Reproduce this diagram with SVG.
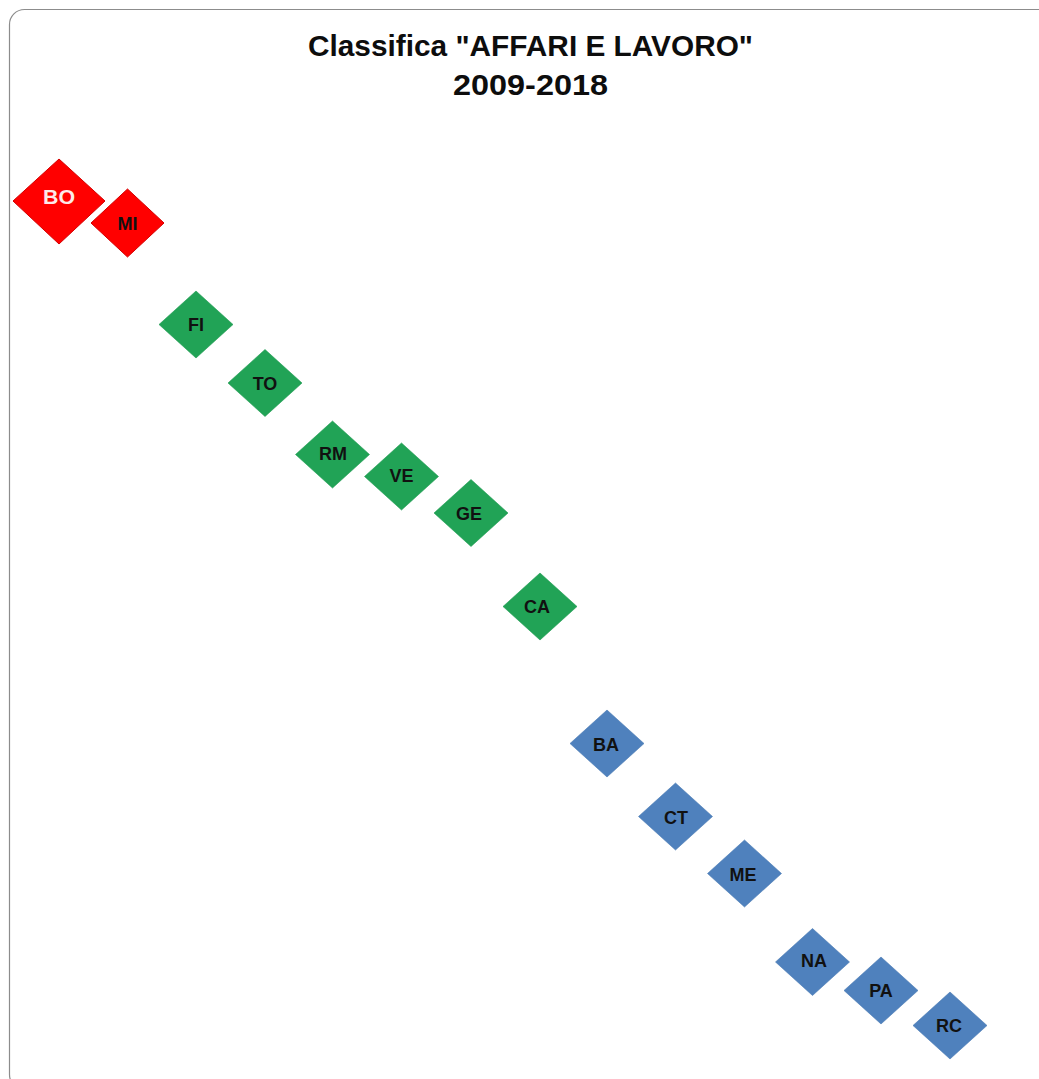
<svg xmlns="http://www.w3.org/2000/svg" width="1039" height="1079" viewBox="0 0 1039 1079">
<style>
.frame{fill:#fff;stroke:#8c8c8c;stroke-width:1.2}
.title{font-family:"Liberation Sans",Arial,sans-serif;font-weight:bold;font-size:29px;fill:#0d0d0d;text-anchor:middle}
.red{fill:#ff0000;stroke:#d40000;stroke-width:1}
.green{fill:#21a356;stroke:#1e9a50;stroke-width:0.6}
.blue{fill:#4f81bd;stroke:#4a7ab3;stroke-width:0.6}
.lbl{font-family:"Liberation Sans",Arial,sans-serif;font-weight:bold;font-size:18px;fill:#111;text-anchor:middle}
.lblw{font-family:"Liberation Sans",Arial,sans-serif;font-weight:bold;font-size:20px;fill:#fdeaea;text-anchor:middle}
</style>
<defs>
<polygon id="d" points="0,-33.5 37,0 0,33.5 -37,0"/>
</defs>
<rect width="1039" height="1079" fill="#fff"/>
<rect class="frame" x="9.5" y="9.5" width="1045" height="1080" rx="15"/>
<g id="title">
<text class="title" x="530.5" y="56" textLength="445" lengthAdjust="spacingAndGlyphs">Classifica "AFFARI E LAVORO"</text>
<text class="title" x="530.5" y="95" textLength="155" lengthAdjust="spacingAndGlyphs">2009-2018</text>
</g>
<g id="connectors"/>
<g id="BO"><polygon class="red" points="59,159 105,201 59,244 13,201"/><text class="lblw" x="59" y="204" textLength="32" lengthAdjust="spacingAndGlyphs">BO</text></g>
<g id="MI"><polygon class="red" points="127.5,189 164,223 127.5,257 91,223"/><text class="lbl" x="127.5" y="230">MI</text></g>
<g id="FI"><use href="#d" class="green" x="196" y="324.5"/><text class="lbl" x="196" y="331">FI</text></g>
<g id="TO"><use href="#d" class="green" x="265" y="383"/><text class="lbl" x="265" y="390">TO</text></g>
<g id="RM"><use href="#d" class="green" x="332.5" y="454.5"/><text class="lbl" x="333" y="459.5">RM</text></g>
<g id="VE"><use href="#d" class="green" x="401.5" y="476.5"/><text class="lbl" x="401.5" y="482">VE</text></g>
<g id="GE"><use href="#d" class="green" x="471" y="513"/><text class="lbl" x="469" y="520">GE</text></g>
<g id="CA"><use href="#d" class="green" x="540" y="606.5"/><text class="lbl" x="537" y="613">CA</text></g>
<g id="BA"><use href="#d" class="blue" x="607" y="743.5"/><text class="lbl" x="606" y="750.5">BA</text></g>
<g id="CT"><use href="#d" class="blue" x="675.5" y="816.5"/><text class="lbl" x="676" y="823.5">CT</text></g>
<g id="ME"><use href="#d" class="blue" x="744.5" y="873.5"/><text class="lbl" x="743" y="880.5">ME</text></g>
<g id="NA"><use href="#d" class="blue" x="812.5" y="962"/><text class="lbl" x="814" y="966.5">NA</text></g>
<g id="PA"><use href="#d" class="blue" x="881" y="990.5"/><text class="lbl" x="881" y="996.5">PA</text></g>
<g id="RC"><use href="#d" class="blue" x="950" y="1025.5"/><text class="lbl" x="949" y="1031.5">RC</text></g>
</svg>
